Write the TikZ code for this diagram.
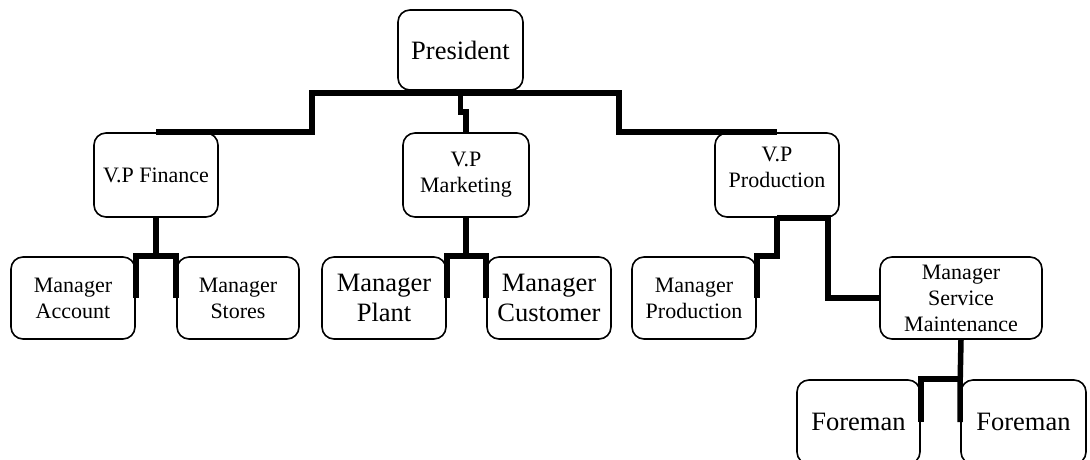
\documentclass[tikz,border=0pt]{standalone}
\usepackage{fontspec}
\setmainfont{Liberation Serif}
\usetikzlibrary{calc}
\tikzset{
  box/.style={draw, rounded corners=12pt, line width=1.6pt, align=center, inner sep=2pt},
  small/.style={font=\fontsize{22}{26}\selectfont},
  big/.style={font=\fontsize{26.5}{30}\selectfont},
  conn/.style={line width=5.5pt, line join=miter},
}
\begin{document}
\begin{tikzpicture}[x=1pt,y=1pt]
\useasboundingbox (0,0) rectangle (1090,-459);
\clip (0,0) rectangle (1090,-459);
% boxes
\node[box,big,minimum width=125pt,minimum height=80pt] (pres) at (460.5,-50) {President};
\node[box,small,minimum width=124pt,minimum height=84pt] (vpf) at (156,-175) {V.P Finance};
\node[box,small,minimum width=126pt,minimum height=84pt] (vpm) at (466,-175) {V.P\\Marketing};
\node[box,small,minimum width=124pt,minimum height=84pt] (vpp) at (777,-175) {\raisebox{6pt}[\height][\depth]{\begin{tabular}{@{}c@{}}V.P\\Production\end{tabular}}};
\node[box,small,minimum width=124pt,minimum height=82pt] (ma) at (73,-298) {Manager\\Account};
\node[box,small,minimum width=122pt,minimum height=82pt] (ms) at (238,-298) {Manager\\Stores};
\node[box,big,minimum width=124pt,minimum height=82pt] (mp) at (384,-298) {Manager\\Plant};
\node[box,big,minimum width=124pt,minimum height=82pt] (mc) at (549,-298) {Manager\\Customer};
\node[box,small,minimum width=124pt,minimum height=82pt] (mpr) at (694,-298) {Manager\\Production};
\node[box,small,minimum width=162pt,minimum height=82pt] (msm) at (961,-298) {Manager\\Service\\Maintenance};
\node[box,big,minimum width=123pt,minimum height=84pt] (f1) at (858.5,-422) {Foreman};
\node[box,big,minimum width=125pt,minimum height=84pt] (f2) at (1023.5,-422) {Foreman};
% bus coordinates
\coordinate (bl) at (312,-93);
\coordinate (br) at (619,-93);
% connectors
\draw[conn] (vpf.north) -| (bl) -- (br) |- (vpp.north);
\draw[conn] (pres.south |- bl) -- ++(0,-19) -| (vpm.north);
\draw[conn] (vpf.south) -- (vpf.south |- ma.north);
\draw[conn] (ma.east) -- (ma.north east) -- (ms.north west) -- (ms.west);
\draw[conn] (vpm.south) -- (vpm.south |- mp.north);
\draw[conn] (mp.east) -- (mp.north east) -- (mc.north west) -- (mc.west);
\draw[conn] (vpp.south) |- (mpr.north east) -- (mpr.east);
\draw[conn] (vpp.south) -- ++(51,0) |- (msm.west);
\draw[conn] (msm.south) -- (f2.north west) -- (f2.west);
\draw[conn] (f1.east) -- (f1.north east) -- (f2.north west);
\end{tikzpicture}
\end{document}
